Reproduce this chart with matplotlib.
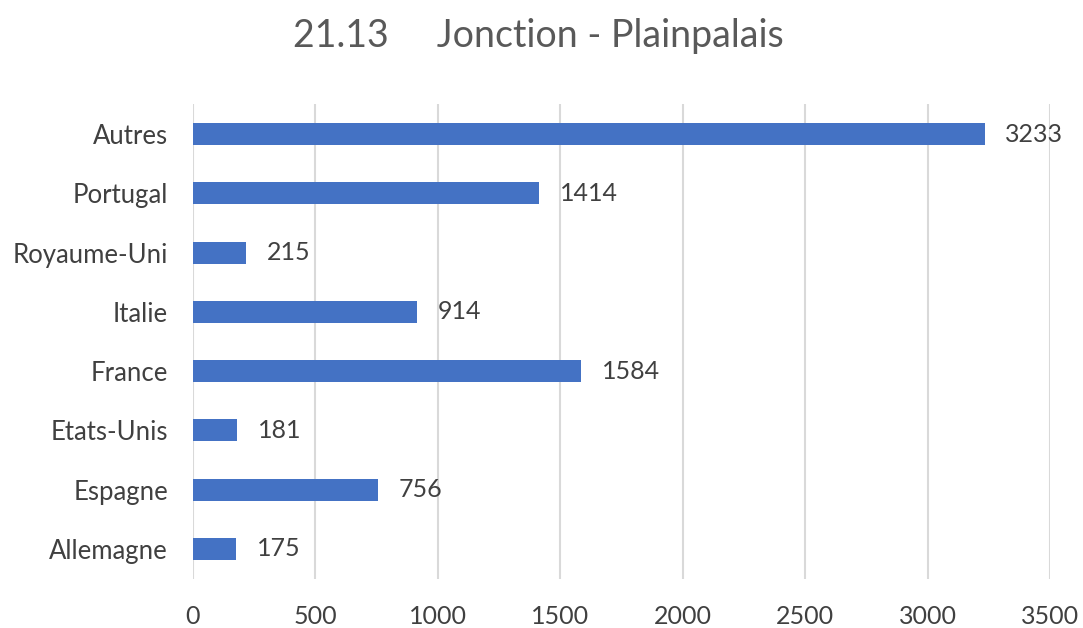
import matplotlib
matplotlib.use('agg')
import matplotlib.pyplot as plt

pays = ['Autres', 'Portugal', 'Royaume-Uni', 'Italie', 'France', 'Etats-Unis', 'Espagne', 'Allemagne']
effectifs = [3233, 1414, 215, 914, 1584, 181, 756, 175]
graduations = [0, 500, 1000, 1500, 2000, 2500, 3000, 3500]
titre = '21.13     Jonction - Plainpalais'

plt.rcParams['font.family'] = ['Lato', 'DejaVu Sans']

fig = plt.figure(figsize=(10.83, 6.28), dpi=100)
ax = fig.add_axes([193/1083, 1-578.6/628, (1050-193)/1083, (578.6-104.4)/628])

pos = list(range(len(pays)))[::-1]
ax.barh(pos, effectifs, height=0.37, color='#4472C4', zorder=3)
for p, v in zip(pos, effectifs):
	ax.text(v + 85, p, str(v), va='center', ha='left', fontsize=18, color='#404040')

ax.set_xlim(0, 3500)
ax.set_ylim(-0.5, len(pays)-0.5)
ax.set_yticks(pos)
ax.set_yticklabels(pays, fontsize=18.5, color='#404040')
ax.set_xticks(graduations)
ax.set_xticklabels([str(g) for g in graduations], fontsize=18, color='#404040')
ax.tick_params(length=0)
ax.tick_params(axis='y', pad=18)
ax.tick_params(axis='x', pad=19)
ax.grid(axis='x', color='#d9d9d9', linewidth=1.5, zorder=0)
for s in ax.spines.values():
	s.set_visible(False)

fig.text(0.497, 0.925, titre, ha='center', va='baseline', fontsize=27, color='#595959')
fig.savefig('out.png', dpi=100)
